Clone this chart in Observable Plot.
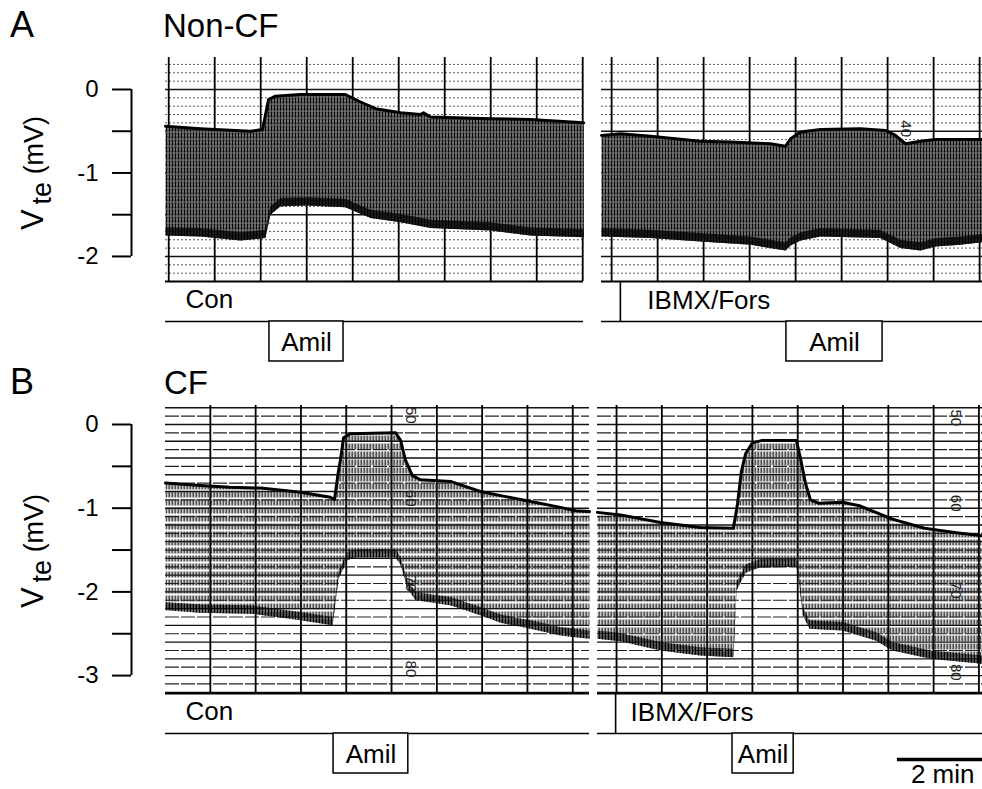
<!DOCTYPE html>
<html><head><meta charset="utf-8">
<script src="https://cdn.jsdelivr.net/npm/d3@7"></script>
<script src="https://cdn.jsdelivr.net/npm/@observablehq/plot@0.6"></script>
<style>
body{margin:0;background:#fff;}
#root{position:relative;width:982px;height:789px;overflow:hidden;background:#fff;font-family:"Liberation Sans",Arial,sans-serif;}
</style></head><body>
<div id="root">
<svg width="0" height="0" style="position:absolute;left:0;top:0">
<defs>
<pattern id="pulseA" width="3" height="7" patternUnits="userSpaceOnUse">
<rect x="0" y="0" width="3" height="7" fill="#9a9a9a"/>
<rect x="0" y="0" width="2" height="7" fill="#050505"/>
<rect x="0.6" y="2" width="0.8" height="1.2" fill="#fff"/>
<rect x="2" y="5" width="1" height="1.5" fill="#fff"/>
</pattern>
<pattern id="tipA" width="3" height="4" patternUnits="userSpaceOnUse">
<rect x="0" y="0" width="2.5" height="4" fill="#000"/>
</pattern>
<pattern id="pulseB" width="3" height="8" patternUnits="userSpaceOnUse">
<rect x="0" y="0" width="1.5" height="6" fill="#1a1a1a"/>
</pattern>
<pattern id="tipB" width="3" height="5" patternUnits="userSpaceOnUse">
<rect x="0" y="0" width="2.1" height="5" fill="#000"/>
</pattern>
</defs></svg>
</div>
<script>
// ---- data: [minutes from panel start, Vte (mV)] ----
const nonCFConUpper = [[0,-0.44],[0.76,-0.47],[1.85,-0.50],[2.11,-0.48],[2.24,-0.12],[2.39,-0.08],[2.93,-0.06],[3.91,-0.06],[4.24,-0.15],[4.57,-0.23],[5.11,-0.28],[5.54,-0.30],[5.61,-0.28],[5.76,-0.33],[7.07,-0.35],[7.93,-0.36],[9.09,-0.40]];
const nonCFConLower = [[0,-1.75],[0.76,-1.76],[1.63,-1.81],[2.17,-1.78],[2.28,-1.50],[2.50,-1.40],[3.09,-1.39],[3.91,-1.41],[4.24,-1.49],[4.46,-1.54],[5.11,-1.59],[5.76,-1.66],[7.07,-1.69],[7.93,-1.75],[9.09,-1.77]];
const nonCFIbmxUpper = [[0,-0.55],[0.41,-0.53],[1.07,-0.56],[2.15,-0.62],[2.80,-0.63],[3.67,-0.65],[4.00,-0.68],[4.11,-0.59],[4.33,-0.51],[4.76,-0.48],[5.63,-0.47],[6.17,-0.49],[6.39,-0.55],[6.61,-0.65],[6.93,-0.62],[7.26,-0.60],[8.28,-0.60]];
const nonCFIbmxLower = [[0,-1.76],[1.07,-1.78],[2.15,-1.82],[3.24,-1.86],[4.00,-1.93],[4.11,-1.87],[4.33,-1.81],[4.76,-1.76],[5.41,-1.77],[6.06,-1.78],[6.28,-1.84],[6.50,-1.90],[6.93,-1.93],[7.26,-1.88],[7.80,-1.86],[8.28,-1.83]];
const cfConUpper = [[0,-0.70],[0.77,-0.73],[1.43,-0.75],[2.10,-0.76],[2.98,-0.81],[3.64,-0.87],[3.73,-0.90],[3.82,-0.55],[3.86,-0.43],[3.93,-0.16],[4.08,-0.11],[5.08,-0.10],[5.19,-0.19],[5.30,-0.43],[5.45,-0.61],[5.63,-0.66],[6.29,-0.68],[6.95,-0.80],[7.40,-0.85],[8.06,-0.92],[8.72,-0.99],[9.05,-1.03],[9.36,-1.04]];
const cfConLower = [[0,-2.22],[0.77,-2.25],[1.88,-2.26],[2.98,-2.34],[3.69,-2.40],[3.82,-1.84],[4.02,-1.62],[4.19,-1.59],[5.08,-1.59],[5.19,-1.68],[5.34,-1.96],[5.52,-2.10],[6.29,-2.16],[6.95,-2.28],[7.40,-2.37],[8.06,-2.44],[8.72,-2.52],[9.36,-2.56]];
const cfIbmxUpper = [[0,-1.05],[0.51,-1.08],[1.39,-1.17],[2.27,-1.23],[3.00,-1.24],[3.09,-0.95],[3.18,-0.55],[3.27,-0.35],[3.42,-0.22],[3.64,-0.19],[4.39,-0.19],[4.48,-0.40],[4.59,-0.70],[4.70,-0.90],[4.88,-0.94],[5.41,-0.93],[5.78,-0.97],[6.51,-1.13],[7.22,-1.24],[7.88,-1.29],[8.50,-1.33]];
const cfIbmxLower = [[0,-2.56],[0.51,-2.59],[1.39,-2.70],[2.27,-2.76],[3.00,-2.78],[3.07,-1.98],[3.27,-1.77],[3.58,-1.71],[4.39,-1.70],[4.44,-1.84],[4.53,-2.28],[4.68,-2.44],[5.41,-2.46],[6.14,-2.58],[6.51,-2.70],[7.35,-2.80],[8.50,-2.86]];

// protocol events (minutes from panel start)
const nonCFAmilCon = [2.26, 3.87];
const nonCFAmilIbmx = [4.02, 6.11];
const cfAmilCon = [3.71, 5.36];
const cfAmilIbmx = [2.98, 4.33];
const nonCFIbmxOn = 0.41;
const cfIbmxOn = 0.40;
const scaleBarStart = 6.62, scaleBarMinutes = 2;

// tick values and labels
const yTicksA = [0, -0.5, -1, -1.5, -2];
const yTicksB = [0, -0.5, -1, -1.5, -2, -2.5, -3];
const conLabel = "Con", amilLabel = "Amil", ibmxLabel = "IBMX/Fors", scaleLabel = "2 min";

// chart-paper printed numbers
const paperNonCFIbmx = [{t: 6.61, v: -0.47, s: "40"}];
const paperCFCon = [{t: 5.41, v: 0.11, s: "50"}, {t: 5.41, v: -0.88, s: "60"}, {t: 5.41, v: -1.90, s: "70"}, {t: 5.41, v: -2.92, s: "80"}];
const paperCFIbmx = [{t: 7.90, v: 0.08, s: "50"}, {t: 7.90, v: -0.94, s: "60"}, {t: 7.90, v: -1.98, s: "70"}, {t: 7.90, v: -2.96, s: "80"}];

// ---- layout ----
const rowA = {top: 45, mt: 12, mb: 87, ymin: -2.3, ymax: 0.383, k: 83.5, ppm: 46, pulse: "url(#pulseA)", tip: "url(#tipA)", heavyGrid: false};
const rowB = {top: 395, mt: 10, mb: 96, ymin: -3.214, ymax: 0.227, k: 83.7, ppm: 45.3, pulse: "url(#pulseB)", tip: "url(#tipB)", heavyGrid: true};

const panels = [
  {row: rowA, left: 0, width: 592, x0: 165, x1: 583, upper: nonCFConUpper, lower: nonCFConLower, amil: nonCFAmilCon, ibmx: null, grid0: 0.07, ticks: yTicksA, paper: []},
  {row: rowA, left: 592, width: 390, x0: 601, x1: 982, upper: nonCFIbmxUpper, lower: nonCFIbmxLower, amil: nonCFAmilIbmx, ibmx: nonCFIbmxOn, ibmxDx: 27, grid0: 0.22, ticks: null, paper: paperNonCFIbmx},
  {row: rowB, left: 0, width: 592, x0: 165, x1: 589, upper: cfConUpper, lower: cfConLower, amil: cfAmilCon, ibmx: null, grid0: 0.99, ticks: yTicksB, paper: paperCFCon},
  {row: rowB, left: 592, width: 390, x0: 597, x1: 982, upper: cfIbmxUpper, lower: cfIbmxLower, amil: cfAmilIbmx, ibmx: cfIbmxOn, ibmxDx: 15, grid0: 0.42, ticks: null, paper: paperCFIbmx, scaleBar: true}
];

const root = document.getElementById("root");
const FONT = '"Liberation Sans", Arial, sans-serif';
const LABEL_SIZE = 26;

function drawPanel(p) {
  const r = p.row;
  const height = Math.round(r.mt + (r.ymax - r.ymin) * r.k + r.mb);
  const below = px => r.ymin - px / r.k;
  const xmax = (p.x1 - p.x0) / r.ppm;
  const levels = d3.range(Math.ceil(r.ymin * 10 - 1e-6), Math.floor(r.ymax * 10 + 1e-6) + 1).map(i => i / 10);
  const isMajor = v => Math.abs(v * 2 - Math.round(v * 2)) < 1e-6;
  const marks = [];

  // horizontal chart-paper lines
  if (r.heavyGrid) {
    marks.push(Plot.ruleY(levels.filter((v, i) => i % 2 === 0), {stroke: "#111", strokeWidth: 1.4}));
    marks.push(Plot.ruleY(levels.filter((v, i) => i % 2 === 1), {stroke: "#222", strokeWidth: 1.2, strokeDasharray: "14,2"}));
  } else {
    marks.push(Plot.ruleY(levels.filter(v => !isMajor(v)), {stroke: "#333", strokeWidth: 1, strokeDasharray: "2,2", strokeOpacity: 0.8}));
    marks.push(Plot.ruleY(levels.filter(isMajor), {stroke: "#111", strokeWidth: 1.4}));
  }
  // vertical minute lines
  marks.push(Plot.ruleX(d3.range(p.grid0, xmax + 0.001, 1), {stroke: "#000", strokeWidth: 1.8}));

  // pulse envelope (filled between lower and upper)
  const poly = p.upper.concat(p.lower.slice().reverse());
  marks.push(Plot.line(poly, {x: d => d[0], y: d => d[1], fill: r.pulse, stroke: "none"}));
  const tips = p.lower.concat(p.lower.slice().reverse().map(d => [d[0], d[1] + 0.1]));
  marks.push(Plot.line(tips, {x: d => d[0], y: d => d[1], fill: r.tip, stroke: "none"}));
  marks.push(Plot.line(p.upper, {x: d => d[0], y: d => d[1], stroke: "#000", strokeWidth: 3, strokeLinejoin: "round"}));

  // bottom border of the paper
  marks.push(Plot.ruleY([r.ymin], {stroke: "#000", strokeWidth: 2.2}));

  // paper numbers
  if (p.paper.length) marks.push(Plot.text(p.paper, {x: "t", y: "v", text: "s", rotate: 90, fontSize: 15, fill: "#222"}));

  // protocol line
  marks.push(Plot.ruleY([below(40)], {stroke: "#000", strokeWidth: 1.6}));
  if (p.ibmx == null) {
    marks.push(Plot.text([conLabel], {x: 0, y: below(27), dx: 20, text: d => d, textAnchor: "start", lineAnchor: "bottom", fontSize: LABEL_SIZE}));
  } else {
    marks.push(Plot.ruleX([p.ibmx], {y1: r.ymin, y2: below(40), stroke: "#000", strokeWidth: 1.6}));
    marks.push(Plot.text([ibmxLabel], {x: p.ibmx, y: below(28), dx: p.ibmxDx, text: d => d, textAnchor: "start", lineAnchor: "bottom", fontSize: LABEL_SIZE}));
  }
  marks.push(Plot.rect([p.amil], {x1: d => d[0], x2: d => d[1], y1: below(40), y2: below(80), fill: "#fff", stroke: "#000", strokeWidth: 1.5}));
  marks.push(Plot.text([p.amil], {x: d => (d[0] + d[1]) / 2, y: below(70), text: () => amilLabel, lineAnchor: "bottom", fontSize: LABEL_SIZE}));

  // y axis
  if (p.ticks) {
    marks.push(Plot.ruleX([0], {y1: p.ticks[0], y2: p.ticks[p.ticks.length - 1], dx: -34, stroke: "#000", strokeWidth: 2}));
    marks.push(Plot.axisY({ticks: p.ticks, anchor: "left", tickSize: 19, tickPadding: 14, dx: -34, strokeWidth: 2, fontSize: 24, tickFormat: d => Number.isInteger(d) ? String(d) : "", label: null}));
  }
  // scale bar
  if (p.scaleBar) {
    marks.push(Plot.ruleY([below(66)], {x1: scaleBarStart, x2: scaleBarStart + scaleBarMinutes, stroke: "#000", strokeWidth: 3.5}));
    marks.push(Plot.text([scaleLabel], {x: scaleBarStart + scaleBarMinutes / 2, y: below(90), text: d => d, lineAnchor: "bottom", fontSize: 26}));
  }

  const svg = Plot.plot({
    width: p.width, height,
    marginLeft: p.x0 - p.left, marginRight: p.left + p.width - p.x1,
    marginTop: r.mt, marginBottom: r.mb,
    x: {domain: [0, xmax], axis: null},
    y: {domain: [r.ymin, r.ymax], axis: null},
    style: {fontFamily: FONT, fontSize: "20px", color: "#000", background: "transparent", overflow: "visible"},
    marks
  });
  svg.style.position = "absolute";
  svg.style.left = p.left + "px";
  svg.style.top = r.top + "px";
  root.appendChild(svg);
}
panels.forEach(drawPanel);

// titles and axis labels
const ns = "http://www.w3.org/2000/svg";
const ov = document.createElementNS(ns, "svg");
ov.setAttribute("width", 982); ov.setAttribute("height", 789);
ov.style.cssText = "position:absolute;left:0;top:0;pointer-events:none;font-family:" + FONT;
const yLabel = (cy) => `<text transform="translate(43,${cy}) rotate(-90)" text-anchor="middle" font-size="27"><tspan font-size="31">V</tspan><tspan dx="5" dy="8">te</tspan><tspan dy="-8"> (mV)</tspan></text>`;
ov.innerHTML = `
<text x="10" y="37" font-size="36">A</text>
<text x="163" y="37" font-size="33">Non-CF</text>
<text x="10" y="394" font-size="36">B</text>
<text x="164" y="394" font-size="33">CF</text>
${yLabel(173)}
${yLabel(551)}`;
root.appendChild(ov);
</script>
</body></html>
